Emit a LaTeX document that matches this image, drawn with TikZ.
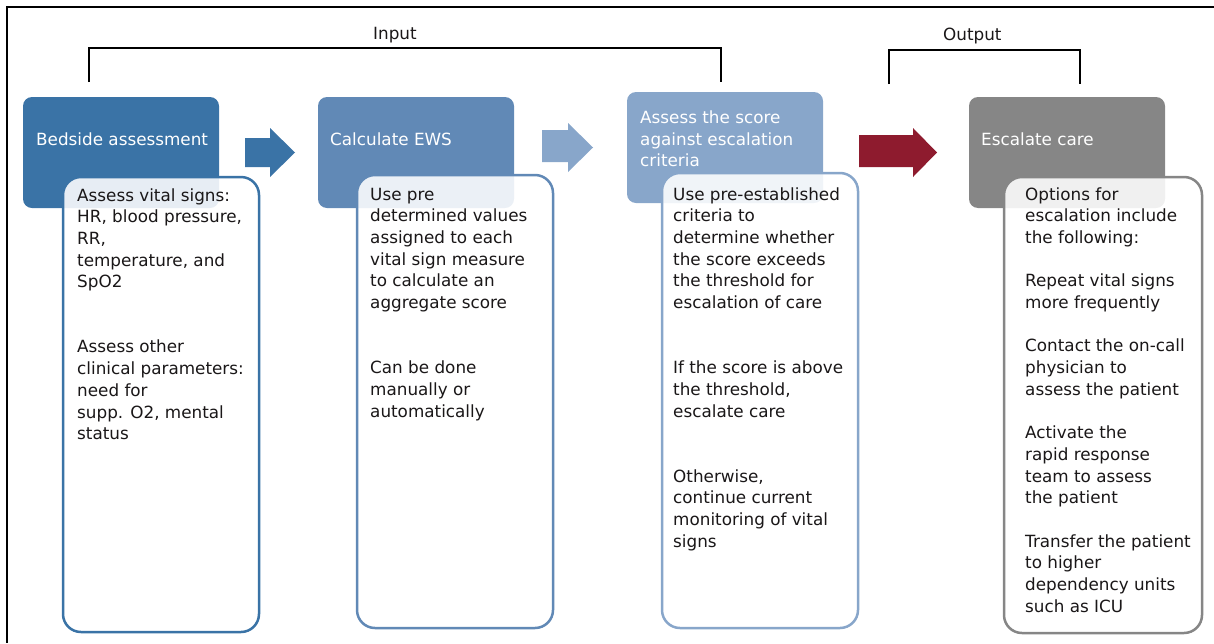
\documentclass[tikz,border=0pt]{standalone}
\usepackage{fontspec}
\setmainfont{DejaVu Sans}
\definecolor{cA}{HTML}{3A73A6}
\definecolor{cB}{HTML}{6189B6}
\definecolor{cC}{HTML}{88A6CA}
\definecolor{cD}{HTML}{868686}
\definecolor{cRed}{HTML}{8E1B2E}
\definecolor{txt}{HTML}{1A1718}
\tikzset{
  hdr/.style={rounded corners=9pt, inner sep=0pt, outer sep=0pt, anchor=north west,
    minimum width=196pt, minimum height=111pt},
  det/.style={rounded corners=18pt, line width=2.5pt, fill=white, fill opacity=0.88,
    inner sep=0pt, outer sep=0pt, anchor=north west, minimum width=196pt},
  hdrtxt/.style={anchor=base west, inner sep=0pt, text=white,
    font=\fontsize{16.8}{21.6}\selectfont},
  dettxt/.style={anchor=base west, inner sep=0pt, text=txt,
    font=\fontsize{16.8}{21.7}\selectfont},
  lbl/.style={anchor=base west, inner sep=0pt, text=txt,
    font=\fontsize{16.8}{20}\selectfont},
  bracket/.style={line width=2pt, black}
}
\newcommand{\lines}[1]{\parbox[t]{190pt}{\raggedright #1}}
\begin{document}
\begin{tikzpicture}[x=1pt,y=-1pt]
\useasboundingbox (0,0) rectangle (1214,643);
% frame (only top and left edges visible)
\coordinate (fTL) at (7,7);
\coordinate (fTR) at (1214,7);
\coordinate (fBL) at (7,643);
\draw[line width=2pt] (fTR) -- (fTL) -- (fBL);

% brackets
\coordinate (inL) at (89,82);
\coordinate (inR) at (721,82);
\draw[bracket] (inL) -- ++(0,-34) -| (inR);
\node[lbl] (input) at (373,39) {Input};
\coordinate (outL) at (889,84);
\coordinate (outR) at (1080,84);
\draw[bracket] (outL) -- ++(0,-34) -| (outR);
\node[lbl] (output) at (943,40.5) {Output};

% header boxes
\node[hdr, fill=cA] (h1) at (23,97) {};
\node[hdr, fill=cB] (h2) at (318,97) {};
\node[hdr, fill=cC] (h3) at (627,92) {};
\node[hdr, fill=cD] (h4) at (969,97) {};

\node[hdrtxt] (t1) at (36,145.5) {Bedside assessment};
\node[hdrtxt] (t2) at (330,145.5) {Calculate EWS};
\node[hdrtxt] (t3) at (640,123.5) {\lines{Assess the score\\against escalation\\criteria}};
\node[hdrtxt] (t4) at (981,145.5) {Escalate care};

% block arrows
\fill[cA] (245,138) -- (270,138) -- (270,128) -- (295,152.5) -- (270,177) -- (270,167) -- (245,167) -- cycle;
\fill[cC] (542,130) -- (568,130) -- (568,123) -- (593,147.5) -- (568,172) -- (568,162) -- (542,162) -- cycle;
\fill[cRed] (859,135) -- (913,135) -- (913,128) -- (937,152.5) -- (913,177) -- (913,167) -- (859,167) -- cycle;

% detail boxes
\node[det, draw=cA, minimum height=455pt] (d1) at (63,177) {};
\node[det, draw=cB, minimum height=453pt] (d2) at (357,175) {};
\node[det, draw=cC, minimum height=455pt] (d3) at (662,173) {};
\node[det, draw=cD, minimum width=198pt, minimum height=456pt] (d4) at (1004,177) {};

\node[dettxt] (x1) at (77,201) {\lines{Assess vital signs:\\HR, blood pressure,\\RR,\\temperature, and\\SpO2\\\mbox{}\\\mbox{}\\Assess other\\clinical parameters:\\need for\\supp. O2, mental\\status}};
\node[dettxt] (x2) at (370,200) {\lines{Use pre\\determined values\\assigned to each\\vital sign measure\\to calculate an\\aggregate score\\\mbox{}\\\mbox{}\\Can be done\\manually or\\automatically}};
\node[dettxt] (x3) at (673,200) {\lines{Use pre-established\\criteria to\\determine whether\\the score exceeds\\the threshold for\\escalation of care\\\mbox{}\\\mbox{}\\If the score is above\\the threshold,\\escalate care\\\mbox{}\\\mbox{}\\Otherwise,\\continue current\\monitoring of vital\\signs}};
\node[dettxt] (x4) at (1025,200) {\lines{Options for\\escalation include\\the following:\\\mbox{}\\Repeat vital signs\\more frequently\\\mbox{}\\Contact the on-call\\physician to\\assess the patient\\\mbox{}\\Activate the\\rapid response\\team to assess\\the patient\\\mbox{}\\Transfer the patient\\to higher\\dependency units\\such as ICU}};
\end{tikzpicture}
\end{document}
